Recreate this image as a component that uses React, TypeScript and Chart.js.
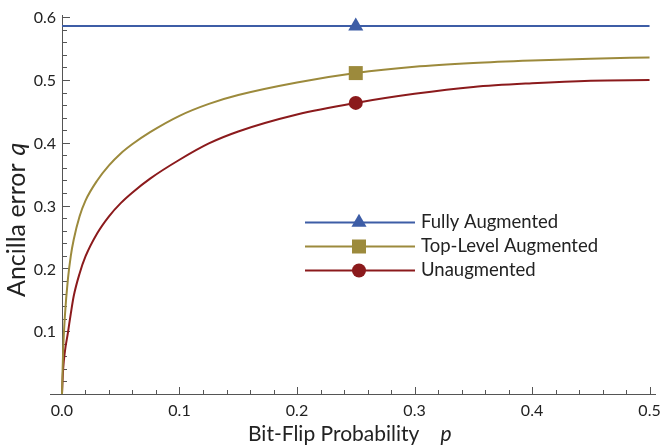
import React, { useEffect, useRef } from 'react';
import { Chart, registerables } from 'chart.js';

Chart.register(...registerables);

// ---- Data ----
const pGrid = [0, 0.001, 0.0025, 0.005, 0.0075, 0.01, 0.015, 0.02, 0.03, 0.04, 0.05, 0.06, 0.075, 0.1, 0.125, 0.15, 0.2, 0.25, 0.3, 0.35, 0.4, 0.45, 0.5];
const qTopLevel = [0, 0.07, 0.125, 0.182, 0.22, 0.246, 0.283, 0.308, 0.34, 0.364, 0.383, 0.398, 0.417, 0.443, 0.462, 0.476, 0.496, 0.511, 0.521, 0.527, 0.531, 0.534, 0.536];
const qUnaugmented = [0, 0.04, 0.068, 0.097, 0.128, 0.156, 0.192, 0.219, 0.256, 0.283, 0.304, 0.321, 0.343, 0.373, 0.399, 0.418, 0.445, 0.4635, 0.478, 0.489, 0.495, 0.499, 0.5];
const pFully = [0, 0.25, 0.5];
const qFully = [0.5858, 0.5858, 0.5858];
const markerP = 0.25;

const seriesNames = ['Fully Augmented', 'Top-Level Augmented', 'Unaugmented'];
const xMajorTicks = [0, 0.1, 0.2, 0.3, 0.4, 0.5];
const xTickLabels = ['0.0', '0.1', '0.2', '0.3', '0.4', '0.5'];
const yMajorTicks = [0, 0.1, 0.2, 0.3, 0.4, 0.5, 0.6];
const yTickLabels = ['', '0.1', '0.2', '0.3', '0.4', '0.5', '0.6'];

const BLUE = '#3d5da6';
const GOLD = '#9c8a3c';
const RED = '#8b1a1c';
const AXIS = '#555555';
const TEXT = '#222222';
const FONT = 'Lato, "Open Sans", sans-serif';

function drawMarker(ctx: CanvasRenderingContext2D, style: string, x: number, y: number, color: string) {
  ctx.save();
  ctx.fillStyle = color;
  ctx.beginPath();
  if (style === 'triangle') {
    const r = 8.7;
    ctx.moveTo(x, y - r);
    ctx.lineTo(x + r * Math.sin((2 * Math.PI) / 3), y - r * Math.cos((2 * Math.PI) / 3));
    ctx.lineTo(x + r * Math.sin((4 * Math.PI) / 3), y - r * Math.cos((4 * Math.PI) / 3));
    ctx.closePath();
  } else if (style === 'rect') {
    ctx.rect(x - 7, y - 7, 14, 14);
  } else {
    ctx.arc(x, y, 7, 0, Math.PI * 2);
  }
  ctx.fill();
  ctx.restore();
}

const axesPlugin = {
  id: 'customAxes',
  beforeDatasetsDraw(chart: any) {
    const ctx: CanvasRenderingContext2D = chart.ctx;
    const xs = chart.scales.x;
    const ys = chart.scales.y;
    const area = chart.chartArea;
    const x0 = xs.getPixelForValue(0);
    const y0 = ys.getPixelForValue(0);
    ctx.save();
    ctx.strokeStyle = AXIS;
    ctx.lineWidth = 1;
    // axis lines
    ctx.beginPath();
    ctx.moveTo(area.left, Math.round(y0) + 0.5);
    ctx.lineTo(area.right, Math.round(y0) + 0.5);
    ctx.moveTo(Math.round(x0) + 0.5, area.top);
    ctx.lineTo(Math.round(x0) + 0.5, y0);
    ctx.stroke();
    // x ticks
    ctx.beginPath();
    for (let i = 0; i < xMajorTicks.length; i++) {
      const v = xMajorTicks[i];
      const px = Math.round(xs.getPixelForValue(v)) + 0.5;
      ctx.moveTo(px, y0);
      ctx.lineTo(px, y0 - 7);
      if (i < xMajorTicks.length - 1) {
        const step = (xMajorTicks[i + 1] - v) / 5;
        for (let k = 1; k < 5; k++) {
          const mx = Math.round(xs.getPixelForValue(v + k * step)) + 0.5;
          ctx.moveTo(mx, y0);
          ctx.lineTo(mx, y0 - 4);
        }
      }
    }
    // y ticks
    for (let i = 0; i < yMajorTicks.length; i++) {
      const v = yMajorTicks[i];
      const py = Math.round(ys.getPixelForValue(v)) + 0.5;
      ctx.moveTo(x0, py);
      ctx.lineTo(x0 + 8, py);
      if (i < yMajorTicks.length - 1) {
        const step = (yMajorTicks[i + 1] - v) / 5;
        for (let k = 1; k < 5; k++) {
          const my = Math.round(ys.getPixelForValue(v + k * step)) + 0.5;
          ctx.moveTo(x0, my);
          ctx.lineTo(x0 + 5, my);
        }
      }
    }
    ctx.stroke();
    // tick labels
    ctx.fillStyle = TEXT;
    ctx.font = `16px ${FONT}`;
    ctx.textAlign = 'center';
    ctx.textBaseline = 'middle';
    xMajorTicks.forEach((v, i) => {
      ctx.fillText(xTickLabels[i], xs.getPixelForValue(v), y0 + 17);
    });
    ctx.textAlign = 'right';
    yMajorTicks.forEach((v, i) => {
      if (yTickLabels[i]) ctx.fillText(yTickLabels[i], x0 - 6, ys.getPixelForValue(v) + 1);
    });
    // x axis title
    ctx.textAlign = 'left';
    ctx.textBaseline = 'alphabetic';
    ctx.font = `21px ${FONT}`;
    const xt = 'Bit-Flip Probability';
    const xw = ctx.measureText(xt).width;
    ctx.fillText(xt, 248, 441);
    ctx.font = `italic 21px ${FONT}`;
    ctx.fillText('p', 248 + xw + 21, 441);
    // y axis title
    ctx.save();
    ctx.translate(25, 297);
    ctx.rotate(-Math.PI / 2);
    ctx.font = `25px ${FONT}`;
    const yt = 'Ancilla error';
    const yw = ctx.measureText(yt).width;
    ctx.fillText(yt, 0, 0);
    ctx.font = `italic 25px ${FONT}`;
    ctx.fillText('q', yw + 8, 0);
    ctx.restore();
    ctx.restore();
  },
  afterDatasetsDraw(chart: any) {
    const ctx: CanvasRenderingContext2D = chart.ctx;
    const colors = [BLUE, GOLD, RED];
    const styles = ['triangle', 'rect', 'circle'];
    const rowY = [222.5, 246.5, 270.5];
    ctx.save();
    seriesNames.forEach((name, i) => {
      ctx.strokeStyle = colors[i];
      ctx.lineWidth = 2;
      ctx.beginPath();
      ctx.moveTo(305, rowY[i]);
      ctx.lineTo(415, rowY[i]);
      ctx.stroke();
      drawMarker(ctx, styles[i], 359, rowY[i], colors[i]);
      ctx.fillStyle = TEXT;
      ctx.font = `18.5px ${FONT}`;
      ctx.textAlign = 'left';
      ctx.textBaseline = 'alphabetic';
      ctx.fillText(name, 421, rowY[i] + 5);
    });
    ctx.restore();
  },
};

export default function App() {
  const ref = useRef<HTMLCanvasElement>(null);
  useEffect(() => {
    if (!ref.current) return;
    const markerRadius = (r: number) => (c: any) => (c.raw && c.raw.x === markerP ? r : 0);
    const chart = new Chart(ref.current, {
      type: 'line',
      data: {
        datasets: [
          {
            label: seriesNames[0],
            data: pFully.map((x, i) => ({ x, y: qFully[i] })),
            borderColor: BLUE,
            backgroundColor: BLUE,
            borderWidth: 2,
            pointStyle: 'triangle',
            pointRadius: markerRadius(8.7) as any,
            pointBorderWidth: 0,
          },
          {
            label: seriesNames[1],
            data: pGrid.map((x, i) => ({ x, y: qTopLevel[i] })),
            borderColor: GOLD,
            backgroundColor: GOLD,
            borderWidth: 2,
            cubicInterpolationMode: 'monotone',
            pointStyle: 'rect',
            pointRadius: markerRadius(9.9) as any,
            pointBorderWidth: 0,
          },
          {
            label: seriesNames[2],
            data: pGrid.map((x, i) => ({ x, y: qUnaugmented[i] })),
            borderColor: RED,
            backgroundColor: RED,
            borderWidth: 2,
            cubicInterpolationMode: 'monotone',
            pointStyle: 'circle',
            pointRadius: markerRadius(7) as any,
            pointBorderWidth: 0,
          },
        ],
      } as any,
      options: {
        responsive: false,
        animation: false,
        layout: { padding: { left: 50, right: 5, top: 15, bottom: 54 } },
        scales: {
          x: { type: 'linear', min: -0.0102, max: 0.5055, display: false },
          y: { type: 'linear', min: 0, max: 0.6035, display: false },
        },
        plugins: { legend: { display: false }, tooltip: { enabled: false } },
        elements: { line: { tension: 0 } },
      } as any,
      plugins: [axesPlugin],
    });
    return () => chart.destroy();
  }, []);
  return (
    <div style={{ position: 'fixed', left: 0, top: 0, width: 661, height: 448, background: '#fff' }}>
      <canvas ref={ref} width={661} height={448} style={{ display: 'block' }} />
    </div>
  );
}
